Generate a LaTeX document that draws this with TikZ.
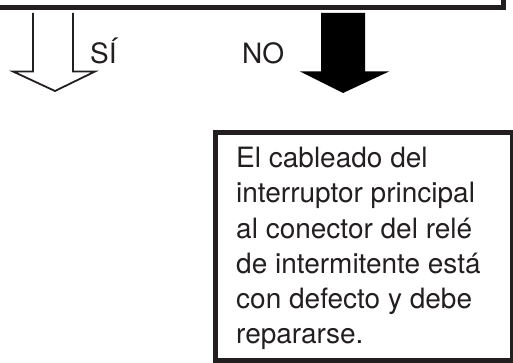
\documentclass[tikz,border=0pt]{standalone}
\usepackage{fontspec}
\setmainfont{TeX Gyre Heros}
\definecolor{ink}{HTML}{231F20}
\begin{document}
\begin{tikzpicture}[x=1pt,y=-1pt,
  frame/.style={draw=ink,line width=5pt},
  hollowarrow/.style={draw=ink,line width=1.8pt,fill=white,line join=miter},
  solidarrow/.style={fill=black,draw=none},
  lbl/.style={anchor=base west,inner sep=0pt,text=ink,font=\fontsize{28}{35}\selectfont}]
\useasboundingbox (0,0) rectangle (513,363);
% top box (partly visible)
\node[frame,anchor=south east,minimum width=540pt,minimum height=60pt,inner sep=0pt] (top) at (506,10.5) {};
% SI hollow arrow
\draw[hollowarrow] (33,13) -- (33,71.5) -- (13,71.5) -- (55,91) -- (95,71.5) -- (73,71.5) -- (73,13);
\node[lbl] (si) at (90,64) {SÍ};
% NO filled arrow
\fill[solidarrow] (321,13) -- (321,71.5) -- (300,71.5) -- (343,93) -- (389,71.5) -- (365,71.5) -- (365,13) -- cycle;
\node[lbl] (no) at (242,63.5) {NO};
% result box
\node[frame,anchor=north west,minimum width=297pt,minimum height=228pt,inner sep=0pt] (box) at (213,130) {};
\node[lbl] (l1) at (236,168) {El cableado del};
\node[lbl] (l2) at (236,203) {interruptor principal};
\node[lbl] (l3) at (236,238) {al conector del relé};
\node[lbl] (l4) at (236,273) {de intermitente está};
\node[lbl] (l5) at (236,308) {con defecto y debe};
\node[lbl] (l6) at (236,343) {repararse.};
\end{tikzpicture}
\end{document}
